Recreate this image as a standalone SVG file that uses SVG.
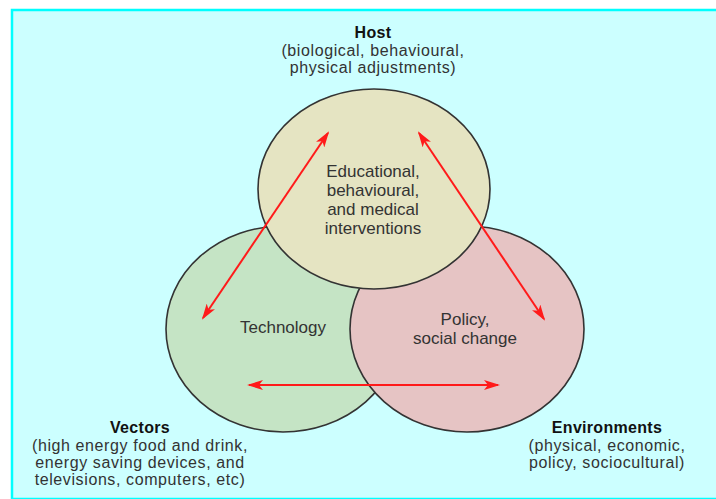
<svg xmlns="http://www.w3.org/2000/svg" width="716" height="499" viewBox="0 0 716 499">
<defs>
<style>
.bg{fill:#ccffff;stroke:#00ffff;stroke-width:2.5}
.circ{stroke:#333333;stroke-width:1.6}
.t{font-family:"Liberation Sans",Arial,sans-serif;fill:#333333;text-anchor:middle}
.in{font-size:17px}
.lab{font-size:16px;letter-spacing:0.6px}
.b{font-weight:bold;fill:#111111;letter-spacing:0.3px}
.arr{stroke:#ff1a1a;stroke-width:2;fill:none;marker-start:url(#ah);marker-end:url(#ah)}
</style>
<marker id="ah" viewBox="0 0 16 10" refX="14" refY="5" markerWidth="16" markerHeight="10" markerUnits="userSpaceOnUse" orient="auto-start-reverse">
<path d="M0,0 L16,5 L0,10 L4,5 Z" fill="#ff1a1a"/>
</marker>
</defs>
<rect class="bg" x="12" y="10" width="712" height="489"/>
<g id="vectors-circle"><ellipse class="circ" cx="283" cy="329" rx="117" ry="103" fill="#c5e4c5"/><text class="t in" x="283" y="333">Technology</text></g>
<g id="environments-circle"><ellipse class="circ" cx="467" cy="329" rx="117" ry="103" fill="#e6c4c4"/><text class="t in" x="465" y="325">Policy,</text><text class="t in" x="465" y="344">social change</text></g>
<g id="host-circle"><ellipse class="circ" cx="374" cy="189" rx="116" ry="100" fill="#e5e4c2"/>
<text class="t in" x="373" y="177">Educational,</text>
<text class="t in" x="373" y="196">behavioural,</text>
<text class="t in" x="373" y="215">and medical</text>
<text class="t in" x="373" y="234">interventions</text></g>
<g id="connectors">
<line class="arr" x1="328" y1="133" x2="203" y2="318"/>
<line class="arr" x1="419" y1="133" x2="544" y2="319"/>
<line class="arr" x1="249" y1="385" x2="498" y2="385"/>
</g>
<g id="host-label">
<text class="t lab b" x="373" y="38">Host</text>
<text class="t lab" x="373" y="56">(biological, behavioural,</text>
<text class="t lab" x="373" y="73">physical adjustments)</text>
</g>
<g id="vectors-label">
<text class="t lab b" x="140" y="433">Vectors</text>
<text class="t lab" x="140" y="451">(high energy food and drink,</text>
<text class="t lab" x="140" y="468">energy saving devices, and</text>
<text class="t lab" x="140" y="485">televisions, computers, etc)</text>
</g>
<g id="environments-label">
<text class="t lab b" x="607" y="433">Environments</text>
<text class="t lab" x="607" y="451">(physical, economic,</text>
<text class="t lab" x="607" y="468">policy, sociocultural)</text>
</g>
</svg>
